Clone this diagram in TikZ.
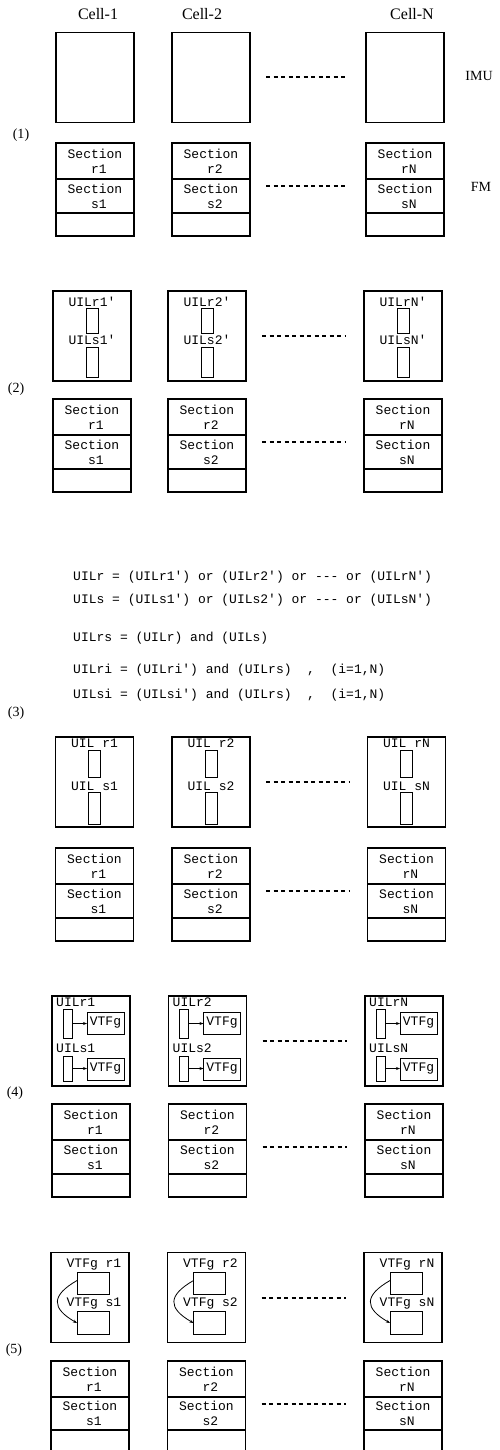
\documentclass[tikz,border=0pt]{standalone}
\usepackage{fontspec}
\setmainfont{Liberation Serif}
\setmonofont{Liberation Mono}
\usetikzlibrary{arrows.meta, positioning}

\begin{document}
\begin{tikzpicture}[
    x=1pt, y=-1pt,
    imu/.style   = {draw, line width=1.5pt, minimum width=78pt, minimum height=90pt,
                    inner sep=0pt, outer sep=0pt},
    sec/.style   = {draw, line width=1.5pt, minimum width=78pt, minimum height=#1,
                    inner sep=0pt, outer sep=0pt, align=center,
                    font=\ttfamily\fontsize{13}{15}\selectfont},
    slot/.style  = {draw, line width=1pt, minimum width=12pt, minimum height=#1,
                    inner sep=0pt, outer sep=0pt},
    vtf/.style   = {draw, line width=1pt, minimum width=#1, minimum height=22pt,
                    inner sep=0pt, outer sep=0pt,
                    font=\ttfamily\fontsize{13}{15}\selectfont},
    tt/.style    = {inner sep=0pt, font=\ttfamily\fontsize{13}{15}\selectfont},
    rm/.style    = {inner sep=0pt, font=\fontsize{14}{16}\selectfont},
    hd/.style    = {inner sep=0pt, font=\fontsize{16}{18}\selectfont},
    dots/.style  = {line width=2pt, dash pattern=on 4pt off 3.5pt,
                    shorten <=16pt, shorten >=18pt},
    arr/.style   = {-{Stealth[length=4pt]}, line width=0.8pt},
]
\useasboundingbox (0,0) rectangle (499,1450);

%% Headers and side labels
\node[hd] (cell-1) at (98,14)  {Cell-1};
\node[hd] (cell-2) at (202,14) {Cell-2};
\node[hd] (cell-N) at (412,14) {Cell-N};
\node[rm] (imu-lbl) at (479,76)  {IMU};
\node[rm] (fm-lbl)  at (481,187) {FM};

%% Step (1)
\node[rm] (step-1) at (21,135) {(1)};
\foreach \c/\x in {1/95, 2/211, N/405} {
  \node[imu] (imu-1-\c) at (\x,77.5) {};
  \node[sec=36pt, anchor=north] (secr-1-\c) at (\x,143) {Section\\\ r\c};
  \node[sec=34pt, below=0pt of secr-1-\c] (secs-1-\c) {Section\\\ s\c};
  \node[sec=23pt, below=0pt of secs-1-\c] (spare-1-\c) {};
}
\draw[dots] (imu-1-2) -- (imu-1-N);
\draw[dots] ([yshift=10pt]secs-1-2.east) -- ([yshift=10pt]secs-1-N.west);

%% Step (2)
\node[rm] (step-2) at (16,389) {(2)};
\foreach \c/\x in {1/92, 2/207, N/403} {
  \node[imu] (imu-2-\c) at (\x,336) {};
  \node[tt] (labr-2-\c) at ([yshift=-11pt]imu-2-\c.north) {UILr\c'};
  \node[slot=25pt, anchor=north] (slotr-2-\c) at ([yshift=-17pt]imu-2-\c.north) {};
  \node[tt] (labs-2-\c) at ([yshift=-49pt]imu-2-\c.north) {UILs\c'};
  \node[slot=30pt, anchor=north] (slots-2-\c) at ([yshift=-56pt]imu-2-\c.north) {};
  \node[sec=36pt, anchor=north] (secr-2-\c) at (\x,399) {Section\\\ r\c};
  \node[sec=34pt, below=0pt of secr-2-\c] (secs-2-\c) {Section\\\ s\c};
  \node[sec=23pt, below=0pt of secs-2-\c] (spare-2-\c) {};
}
\draw[dots] (imu-2-2) -- (imu-2-N);
\draw[dots] ([yshift=10pt]secs-2-2.east) -- ([yshift=10pt]secs-2-N.west);

%% Logic
\node[tt, anchor=west] (eq-r)  at (73,577) {UILr = (UILr1') or (UILr2') or --- or (UILrN')};
\node[tt, anchor=west] (eq-s)  at (73,600) {UILs = (UILs1') or (UILs2') or --- or (UILsN')};
\node[tt, anchor=west] (eq-rs) at (73,638) {UILrs = (UILr) and (UILs)};
\node[tt, anchor=west] (eq-ri) at (73,670) {UILri = (UILri') and (UILrs)\ \ ,\ \ (i=1,N)};
\node[tt, anchor=west] (eq-si) at (73,695) {UILsi = (UILsi') and (UILrs)\ \ ,\ \ (i=1,N)};

%% Step (3)
\node[rm] (step-3) at (16,713) {(3)};
\foreach \c/\x in {1/94.5, 2/211, N/406.5} {
  \node[imu] (imu-3-\c) at (\x,782) {};
  \node[tt] (labr-3-\c) at ([yshift=-6pt]imu-3-\c.north) {UIL r\c};
  \node[slot=27pt, anchor=north] (slotr-3-\c) at ([yshift=-13pt]imu-3-\c.north) {};
  \node[tt] (labs-3-\c) at ([yshift=-49pt]imu-3-\c.north) {UIL s\c};
  \node[slot=32pt, anchor=north] (slots-3-\c) at ([yshift=-55pt]imu-3-\c.north) {};
  \node[sec=36pt, anchor=north] (secr-3-\c) at (\x,848) {Section\\\ r\c};
  \node[sec=34pt, below=0pt of secr-3-\c] (secs-3-\c) {Section\\\ s\c};
  \node[sec=23pt, below=0pt of secs-3-\c] (spare-3-\c) {};
}
\draw[dots] (imu-3-2) -- (imu-3-N);
\draw[dots] ([yshift=10pt]secs-3-2.east) -- ([yshift=10pt]secs-3-N.west);

%% Step (4)
\node[rm] (step-4) at (15,1093) {(4)};
\foreach \c/\x in {1/91, 2/207.5, N/404} {
  \node[imu] (imu-4-\c) at (\x,1041) {};
  \node[tt, anchor=west] (labr-4-\c) at ([xshift=4pt,yshift=-6pt]imu-4-\c.north west) {UILr\c};
  \node[slot=29pt, minimum width=9pt, anchor=north west] (slotr-4-\c)
      at ([xshift=11pt,yshift=-13pt]imu-4-\c.north west) {};
  \node[vtf=37pt, anchor=north west] (vtfr-4-\c)
      at ([xshift=35pt,yshift=-16pt]imu-4-\c.north west) {VTFg};
  \node[tt, anchor=west] (labs-4-\c) at ([xshift=4pt,yshift=-52pt]imu-4-\c.north west) {UILs\c};
  \node[slot=25pt, minimum width=9pt, anchor=north west] (slots-4-\c)
      at ([xshift=11pt,yshift=-60pt]imu-4-\c.north west) {};
  \node[vtf=37pt, anchor=north west] (vtfs-4-\c)
      at ([xshift=35pt,yshift=-62pt]imu-4-\c.north west) {VTFg};
  \draw[arr] (slotr-4-\c.east) -- (slotr-4-\c.east -| vtfr-4-\c.west);
  \draw[arr] (slots-4-\c.east) -- (slots-4-\c.east -| vtfs-4-\c.west);
  \node[sec=36pt, anchor=north] (secr-4-\c) at (\x,1104) {Section\\\ r\c};
  \node[sec=34pt, below=0pt of secr-4-\c] (secs-4-\c) {Section\\\ s\c};
  \node[sec=23pt, below=0pt of secs-4-\c] (spare-4-\c) {};
}
\draw[dots] (imu-4-2) -- (imu-4-N);
\draw[dots] ([yshift=10pt]secs-4-2.east) -- ([yshift=10pt]secs-4-N.west);

%% Step (5)
\node[rm] (step-5) at (14,1350) {(5)};
\foreach \c/\x in {1/90, 2/206.5, N/403} {
  \node[imu] (imu-5-\c) at (\x,1297.5) {};
  \node[tt] (labr-5-\c) at ([xshift=4pt,yshift=-12pt]imu-5-\c.north) {VTFg r\c};
  \node[vtf=32pt, anchor=north west] (vtfr-5-\c)
      at ([xshift=26pt,yshift=-20pt]imu-5-\c.north west) {};
  \node[tt] (labs-5-\c) at ([xshift=4pt,yshift=-51pt]imu-5-\c.north) {VTFg s\c};
  \node[vtf=32pt, minimum height=23pt, anchor=north west] (vtfs-5-\c)
      at ([xshift=26pt,yshift=-59pt]imu-5-\c.north west) {};
  \draw[arr] ([yshift=3pt]vtfr-5-\c.west) to[out=210, in=150, looseness=1.8] (vtfs-5-\c.west);
  \node[sec=36pt, anchor=north] (secr-5-\c) at (\x,1361) {Section\\\ r\c};
  \node[sec=33pt, below=0pt of secr-5-\c] (secs-5-\c) {Section\\\ s\c};
  \node[sec=23pt, below=0pt of secs-5-\c] (spare-5-\c) {};
}
\draw[dots] (imu-5-2) -- (imu-5-N);
\draw[dots] ([yshift=10pt]secs-5-2.east) -- ([yshift=10pt]secs-5-N.west);

\end{tikzpicture}
\end{document}
